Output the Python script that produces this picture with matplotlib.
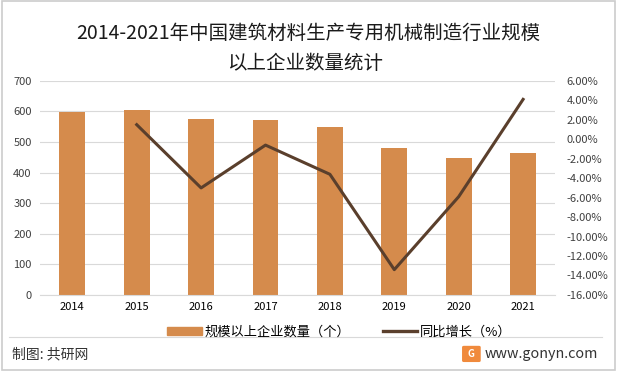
import matplotlib
matplotlib.use("Agg")
import matplotlib.pyplot as plt
from matplotlib.patches import Rectangle, FancyBboxPatch
from matplotlib.lines import Line2D

plt.rcParams['font.family'] = ['Noto Sans CJK SC', 'DejaVu Sans']

# data
years = ['2014', '2015', '2016', '2017', '2018', '2019', '2020', '2021']
counts = [599, 605, 576, 573, 550, 479, 449, 465]
growth_years = ['2015', '2016', '2017', '2018', '2019', '2020', '2021']
growth = [1.5, -5.0, -0.6, -3.6, -13.4, -5.9, 4.1]

left_ticks = [0, 100, 200, 300, 400, 500, 600, 700]
right_ticks = list(range(6, -17, -2))

bar_color = '#D58B4C'
line_color = '#5A3F2C'

fig = plt.figure(figsize=(6.17, 3.71), dpi=100)
fig.patches.append(Rectangle((0.004, 0.004), 0.992, 0.992, transform=fig.transFigure,
                             fill=False, edgecolor='#CCCCCC', linewidth=1.2))

ax = fig.add_axes([0.065, 0.205, 0.835, 0.577])
x = list(range(len(years)))
ax.bar(x, counts, width=0.4, color=bar_color, zorder=2)
ax.set_ylim(0, 700)
ax.set_xlim(-0.5, len(years) - 0.5)
ax.set_yticks(left_ticks)
ax.set_xticks(x)
ax.set_xticklabels(years)
ax.grid(axis='y', color='#D9D9D9', linewidth=0.8, zorder=0)
for s in ax.spines.values():
    s.set_visible(False)
ax.spines['bottom'].set_visible(True)
ax.spines['bottom'].set_color('#D9D9D9')
ax.tick_params(length=0, labelsize=8, colors='#404040', pad=6)
ax.tick_params(axis='x', colors='black', pad=5)

ax2 = ax.twinx()
gx = [years.index(y) for y in growth_years]
ax2.plot(gx, growth, color=line_color, linewidth=2.2, zorder=3)
ax2.set_ylim(-16, 6)
ax2.set_yticks(right_ticks)
ax2.set_yticklabels(['%.2f%%' % v for v in right_ticks])
for s in ax2.spines.values():
    s.set_visible(False)
ax2.tick_params(length=0, labelsize=8, colors='#404040', pad=8)

fig.text(0.5, 0.91, '2014-2021年中国建筑材料生产专用机械制造行业规模', ha='center', va='center',
         fontsize=14, color='#1A1A1A')
fig.text(0.495, 0.828, '以上企业数量统计', ha='center', va='center', fontsize=14, color='#1A1A1A')

handles = [Rectangle((0, 0), 1, 1, color=bar_color),
           Line2D([0], [0], color=line_color, linewidth=2.4)]
fig.legend(handles, ['规模以上企业数量（个）', '同比增长（%）'], loc='center',
           bbox_to_anchor=(0.55, 0.105), ncol=2, frameon=False, fontsize=9.5,
           handlelength=2.6, handleheight=0.55, columnspacing=2.5, handletextpad=0.2)

fig.add_artist(Line2D([0.015, 0.975], [0.091, 0.091], transform=fig.transFigure,
                      color='#D9D9D9', linewidth=0.8))
fig.text(0.02, 0.045, '制图: 共研网', ha='left', va='center', fontsize=10, color='#333333')
fig.patches.append(FancyBboxPatch((0.752, 0.028), 0.024, 0.036, boxstyle='round,pad=0.002',
                                  transform=fig.transFigure, color='#F08A3C'))
fig.text(0.764, 0.046, 'G', ha='center', va='center', fontsize=7, color='white', weight='bold')
fig.text(0.785, 0.045, 'www.gonyn.com', ha='left', va='center', fontsize=10.3, color='#333333')

fig.savefig('out.png', dpi=100)
